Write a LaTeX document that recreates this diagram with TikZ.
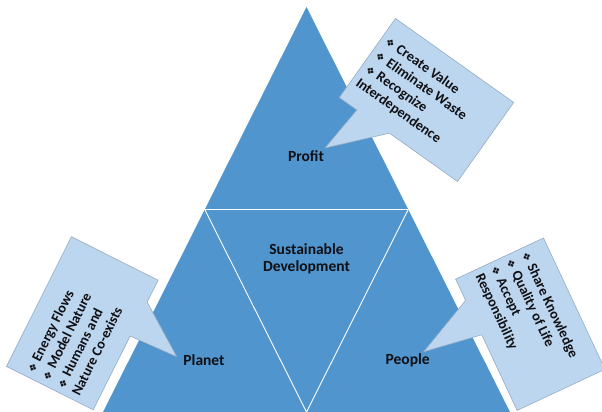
\documentclass[tikz,border=0pt]{standalone}
\usepackage{fontspec}
\setmainfont{Carlito}
\newfontfamily\symfont{DejaVu Sans}
\usetikzlibrary{calc}
\definecolor{triblue}{RGB}{80,149,206}
\definecolor{notefill}{RGB}{187,214,238}
\definecolor{noteedge}{RGB}{150,172,195}
\definecolor{ink}{RGB}{16,16,20}
% list bullet used inside the callouts
\newcommand{\blt}{{\symfont\fontsize{10}{10}\selectfont ❖}\hspace{4pt}}
\begin{document}
\begin{tikzpicture}[x=1pt,y=1pt,
  tag/.style={font=\bfseries\fontsize{15.5}{17}\selectfont, text=ink, align=center, inner sep=0pt},
  notetext/.style={font=\bfseries\fontsize{14.2}{17}\selectfont, text=ink, align=left, anchor=west, inner sep=0pt, transform shape},
  notebox/.style={fill=notefill, draw=noteedge, line width=0.6pt, line join=miter},
  divider/.style={draw=white, line width=0.9pt}]
\useasboundingbox (0,0) rectangle (602,412);

% the big triangle split into four parts
\begin{scope}
  \clip (0,0) rectangle (602,412);
  \coordinate (apex) at (306.5,405);
  \coordinate (baseL) at (103,0);
  \coordinate (baseR) at (510,0);
  \coordinate (midL) at ($(apex)!0.5!(baseL)$);
  \coordinate (midR) at ($(apex)!0.5!(baseR)$);
  \coordinate (midB) at ($(baseL)!0.5!(baseR)$);
  \fill[triblue] (apex) -- (baseR) -- (baseL) -- cycle;
  \draw[divider] (midL) -- (midR) -- (midB) -- cycle;
\end{scope}

% labels of the four parts
\node[tag] (profit) at (306,255.5) {Profit};
\node[tag] (core) at (306.5,153.5) {Sustainable\\Development};
\node[tag] (planet) at (204,52) {Planet};
\node[tag] (people) at (407.7,52) {People};

% pointer tips of the callouts
\coordinate (profitTip) at (325,264);
\coordinate (planetTip) at (176.7,55.3);
\coordinate (peopleTip) at (423.7,60.3);

% Profit callout
\begin{scope}[shift={(426.5,312)}, rotate=-35.4]
  \draw[notebox] (-72.5,-48.5) -- (-51,-48.5) -- (profitTip) -- (-11,-48.5)
    -- (72.5,-48.5) -- (72.5,48.5) -- (-72.5,48.5) -- cycle;
  \node[notetext] (profitNote) at (-67,0)
    {\blt Create Value\\\blt Eliminate Waste\\\blt Recognize\\Interdependence};
\end{scope}

% Planet callout
\begin{scope}[shift={(82.3,88.7)}, rotate=63.4]
  \draw[notebox] (-72.5,-48.5) -- (10,-48.5) -- (planetTip) -- (48,-48.5)
    -- (72.5,-48.5) -- (72.5,48.5) -- (-72.5,48.5) -- cycle;
  \node[notetext] (planetNote) at (-67,0)
    {\blt Energy Flows\\\blt Model Nature\\\blt Humans and\\Nature Co-exists};
\end{scope}

% People callout
\begin{scope}[shift={(530.3,87.8)}, rotate=-64.9]
  \draw[notebox] (-72.5,-48.5) -- (-49,-48.5) -- (peopleTip) -- (-11,-48.5)
    -- (72.5,-48.5) -- (72.5,48.5) -- (-72.5,48.5) -- cycle;
  \node[notetext] (peopleNote) at (-67,0)
    {\blt Share Knowledge\\\blt Quality of Life\\\blt Accept\\Responsibility};
\end{scope}
\end{tikzpicture}
\end{document}
